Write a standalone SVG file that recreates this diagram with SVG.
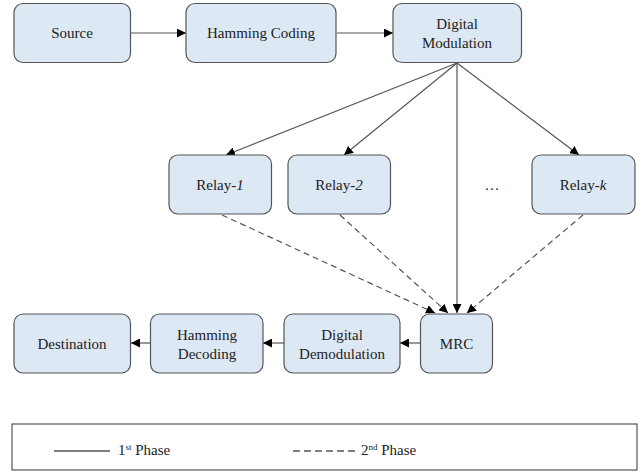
<svg xmlns="http://www.w3.org/2000/svg" width="641" height="472" viewBox="0 0 641 472">
  <defs>
    <marker id="arrow" viewBox="0 0 10 10" refX="10" refY="5" markerWidth="9" markerHeight="9" markerUnits="userSpaceOnUse" orient="auto">
      <path d="M0,0 L10,5 L0,10 Z" fill="#000"/>
    </marker>
    <style>
      .node rect { fill: #dde8f5; stroke: #555; stroke-width: 1.2; }
      text { fill: #222; font-family: "Liberation Serif", "DejaVu Serif", serif; font-size: 15px; }
      .node text, .label { text-anchor: middle; }
      .solid { stroke: #555; stroke-width: 1.2; fill: none; marker-end: url(#arrow); }
      .dash { stroke: #555; stroke-width: 1.2; fill: none; stroke-dasharray: 6 4; marker-end: url(#arrow); }
    </style>
  </defs>
  <rect width="641" height="472" fill="#fff"/>

  <!-- links between the blocks -->
  <g id="connectors">
    <line class="solid" x1="131" y1="33" x2="186" y2="33"/>
    <line class="solid" x1="337" y1="33" x2="393" y2="33"/>
    <line class="solid" x1="457" y1="63" x2="226" y2="155"/>
    <line class="solid" x1="457" y1="63" x2="344" y2="155"/>
    <line class="solid" x1="457" y1="63" x2="457" y2="313"/>
    <line class="solid" x1="457" y1="63" x2="579" y2="155"/>
    <line class="dash" x1="222" y1="215" x2="435" y2="313"/>
    <line class="dash" x1="340" y1="215" x2="448" y2="313"/>
    <line class="dash" x1="583" y1="215" x2="467" y2="313"/>
    <line class="solid" x1="420" y1="343" x2="400" y2="343"/>
    <line class="solid" x1="284" y1="343" x2="263" y2="343"/>
    <line class="solid" x1="150" y1="343" x2="131" y2="343"/>
  </g>

  <g id="source" class="node">
    <rect x="14" y="3.5" width="116.5" height="59" rx="9"/>
    <text x="72" y="38">Source</text>
  </g>
  <g id="hamming-coding" class="node">
    <rect x="186" y="3.5" width="150" height="59" rx="9"/>
    <text x="261" y="38">Hamming Coding</text>
  </g>
  <g id="digital-modulation" class="node">
    <rect x="393" y="3.5" width="128.5" height="59" rx="9"/>
    <text x="457" y="29">Digital</text>
    <text x="457" y="48">Modulation</text>
  </g>

  <g id="relay-1" class="node">
    <rect x="169" y="155" width="102.5" height="59" rx="9"/>
    <text x="220" y="190">Relay-<tspan font-style="italic">1</tspan></text>
  </g>
  <g id="relay-2" class="node">
    <rect x="288" y="155" width="102.5" height="59" rx="9"/>
    <text x="339" y="190">Relay-<tspan font-style="italic">2</tspan></text>
  </g>
  <text class="label" x="492" y="190">…</text>
  <g id="relay-k" class="node">
    <rect x="532" y="155" width="103" height="59" rx="9"/>
    <text x="583" y="190">Relay-<tspan font-style="italic">k</tspan></text>
  </g>

  <g id="destination" class="node">
    <rect x="14" y="314" width="116.5" height="59" rx="9"/>
    <text x="72" y="349">Destination</text>
  </g>
  <g id="hamming-decoding" class="node">
    <rect x="150.5" y="314" width="112.5" height="59" rx="9"/>
    <text x="207" y="340">Hamming</text>
    <text x="207" y="359">Decoding</text>
  </g>
  <g id="digital-demodulation" class="node">
    <rect x="284" y="314" width="116" height="59" rx="9"/>
    <text x="342" y="340">Digital</text>
    <text x="342" y="359">Demodulation</text>
  </g>
  <g id="mrc" class="node">
    <rect x="420.5" y="314" width="72" height="59" rx="9"/>
    <text x="456.5" y="349">MRC</text>
  </g>

  <!-- key for the two line styles -->
  <g id="legend">
    <rect x="12" y="424" width="625" height="46" fill="#fff" stroke="#333" stroke-width="1"/>
    <line x1="54" y1="451" x2="110" y2="451" stroke="#000" stroke-width="1.2"/>
    <text x="118" y="455">1<tspan font-size="9" dy="-5">st</tspan><tspan dy="5"> Phase</tspan></text>
    <line x1="293" y1="451" x2="357" y2="451" stroke="#000" stroke-width="1.2" stroke-dasharray="7 4"/>
    <text x="361" y="455">2<tspan font-size="9" dy="-5">nd</tspan><tspan dy="5"> Phase</tspan></text>
  </g>
</svg>
